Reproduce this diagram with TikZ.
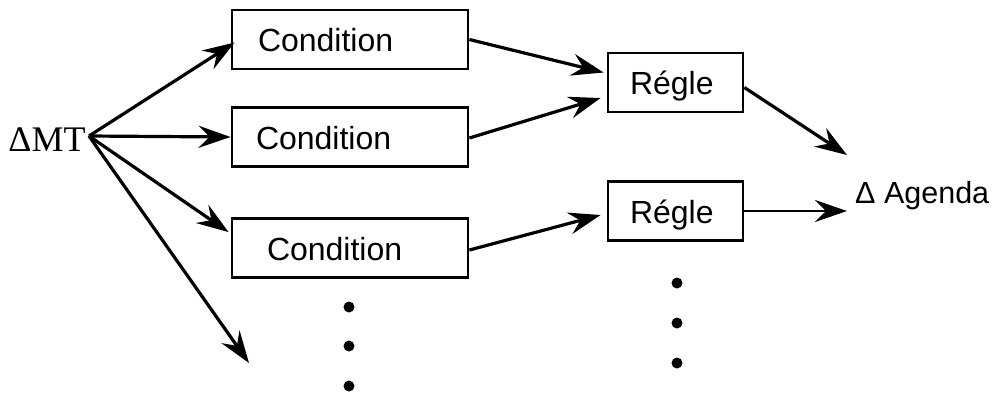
\documentclass[tikz,border=0pt]{standalone}
\usepackage{fontspec}
\setmainfont{Liberation Sans}
\newfontfamily\mtserif{Liberation Serif}
\usetikzlibrary{arrows.meta}
\begin{document}
\begin{tikzpicture}[x=1pt,y=-1pt,
  box/.style={draw,line width=2.8pt,minimum height=59pt,text height=24pt,text depth=0pt,
    font=\fontsize{32}{38}\selectfont,align=left},
  condbox/.style={box,inner ysep=0pt},
  arr/.style={line width=3.2pt,-{Stealth[length=32pt,width=22pt,inset=11pt]}},
  dotm/.style={fill=black}]
\useasboundingbox (0,0) rectangle (996,392);
% source
\node[font=\mtserif\fontsize{36}{40}\selectfont,inner sep=0pt] (mt) at (47,140) {ΔMT};
\coordinate (src) at (89,136);
% condition boxes
\node[condbox,inner xsep=26pt,text width=184pt] (c1) at (350,39.5) {Condition};
\node[condbox,inner xsep=24pt,text width=188pt] (c2) at (350,137) {Condition};
\node[condbox,inner xsep=35pt,text width=166pt] (c3) at (350,248) {Condition};
% rule boxes
\node[box,inner ysep=0pt,inner xsep=22pt,text width=91pt] (r1) at (675.5,82.5) {Régle};
\node[box,inner ysep=0pt,inner xsep=22pt,text width=91pt] (r2) at (675.5,211) {Régle};
% agenda
\node[font=\fontsize{30.5}{36}\selectfont,inner sep=0pt,anchor=base west] (ag) at (855,203) {Δ Agenda};
\coordinate (free) at (249,363);
% arrows from MT
\draw[arr] (src) -- ([shift={(4,3)}]c1.west);
\draw[arr] (src) -- (c2.west);
\draw[arr] (src) -- ([shift={(-2,15)}]c3.north west);
\draw[arr] (src) -- (free);
% conditions to rules
\draw[arr] (c1.east) -- ([shift={(-3,-10)}]r1.west);
\draw[arr] ([shift={(0,1)}]c2.east) -- ([shift={(-6,15.5)}]r1.west);
\draw[arr] ([shift={(0,2)}]c3.east) -- ([shift={(-6,4)}]r2.west);
% rules to agenda
\draw[arr] ([shift={(0,5)}]r1.east) -- ([shift={(-8,-48)}]ag.base west);
\draw[arr,line width=2.5pt] (r2.east) -- ([shift={(-8,8)}]ag.base west);
% dots
\foreach \y in {307,346,386} \fill[dotm] (349,\y) circle (5.5pt);
\foreach \y in {283,323,363} \fill[dotm] (677,\y) circle (5.5pt);
\end{tikzpicture}
\end{document}
